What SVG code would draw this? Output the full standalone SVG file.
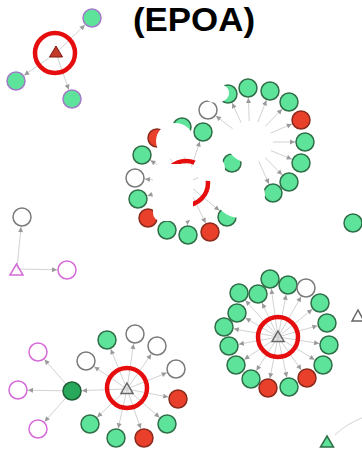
<svg xmlns="http://www.w3.org/2000/svg" width="362" height="452" viewBox="0 0 362 452">
<style>
.e{stroke:#d2d2d2;stroke-width:1;fill:none;marker-end:url(#a)}
.g{fill:#5ee39b;stroke:#2f6e47;stroke-width:1.5}
.pg{fill:#5ee39b;stroke:#a07cc8;stroke-width:1.5}
.r{fill:#e8402b;stroke:#8a2a1c;stroke-width:1.5}
.o{fill:#fff;stroke:#7a7a7a;stroke-width:1.5}
.m{fill:#fff;stroke:#d56ad8;stroke-width:1.5}
.dg{fill:#27a85a;stroke:#1d5e36;stroke-width:1.5}
.ring{fill:none;stroke:#e50d0d;stroke-width:4.5}
.tri{fill:none;stroke:#666;stroke-width:1.5}
.w{fill:#fff;stroke:none}
text{font-family:"Liberation Sans",Arial,sans-serif;font-weight:bold;fill:#000}
</style>
<defs>
<marker id="a" markerUnits="userSpaceOnUse" markerWidth="5" markerHeight="5" refX="15" refY="2.5" orient="auto" overflow="visible">
<path d="M0,0 L5,2.5 L0,5 z" fill="#9a9a9a"/>
</marker>
</defs>
<rect width="362" height="452" fill="#fff"/>
<text x="194" y="30.5" font-size="33" text-anchor="middle" textLength="122" lengthAdjust="spacingAndGlyphs">(EPOA)</text>

<g id="connectors">
<line class="e" x1="56" y1="53" x2="92" y2="18"/>
<line class="e" x1="56" y1="53" x2="16" y2="81"/>
<line class="e" x1="56" y1="53" x2="72" y2="99"/>
<line class="e" x1="250" y1="142" x2="228" y2="94"/>
<line class="e" x1="250" y1="142" x2="248" y2="88"/>
<line class="e" x1="250" y1="142" x2="270" y2="91"/>
<line class="e" x1="250" y1="142" x2="289" y2="102"/>
<line class="e" x1="250" y1="142" x2="301" y2="120"/>
<line class="e" x1="250" y1="142" x2="305" y2="142"/>
<line class="e" x1="250" y1="142" x2="301" y2="163"/>
<line class="e" x1="250" y1="142" x2="289" y2="182"/>
<line class="e" x1="250" y1="142" x2="273" y2="193"/>
<line class="e" x1="250" y1="142" x2="208" y2="110"/>
<line class="e" x1="186" y1="183" x2="157" y2="138"/>
<line class="e" x1="186" y1="183" x2="182" y2="127"/>
<line class="e" x1="186" y1="183" x2="203" y2="132"/>
<line class="e" x1="186" y1="183" x2="142" y2="155"/>
<line class="e" x1="186" y1="183" x2="135" y2="178"/>
<line class="e" x1="186" y1="183" x2="138" y2="199"/>
<line class="e" x1="186" y1="183" x2="148" y2="218"/>
<line class="e" x1="186" y1="183" x2="167" y2="230"/>
<line class="e" x1="186" y1="183" x2="188" y2="235"/>
<line class="e" x1="186" y1="183" x2="210" y2="232"/>
<line class="e" x1="186" y1="183" x2="227" y2="217"/>
<line class="e" x1="186" y1="183" x2="232" y2="163"/>
<line class="e" x1="17" y1="268" x2="22" y2="217"/>
<line class="e" x1="17" y1="269" x2="67" y2="270"/>
<line class="e" x1="127" y1="389" x2="107" y2="340"/>
<line class="e" x1="127" y1="389" x2="135" y2="334"/>
<line class="e" x1="127" y1="389" x2="157" y2="346"/>
<line class="e" x1="127" y1="389" x2="176" y2="369"/>
<line class="e" x1="127" y1="389" x2="178" y2="399"/>
<line class="e" x1="127" y1="389" x2="167" y2="424"/>
<line class="e" x1="127" y1="389" x2="144" y2="438"/>
<line class="e" x1="127" y1="389" x2="116" y2="438"/>
<line class="e" x1="127" y1="389" x2="90" y2="424"/>
<line class="e" x1="127" y1="389" x2="86" y2="361"/>
<line class="e" x1="127" y1="389" x2="72" y2="391"/>
<line class="e" x1="72" y1="391" x2="38" y2="352"/>
<line class="e" x1="72" y1="391" x2="18" y2="390"/>
<line class="e" x1="72" y1="391" x2="38" y2="429"/>
<line class="e" x1="278" y1="337" x2="270" y2="279"/>
<line class="e" x1="278" y1="337" x2="288" y2="285"/>
<line class="e" x1="278" y1="337" x2="306" y2="288"/>
<line class="e" x1="278" y1="337" x2="320" y2="303"/>
<line class="e" x1="278" y1="337" x2="327" y2="323"/>
<line class="e" x1="278" y1="337" x2="329" y2="345"/>
<line class="e" x1="278" y1="337" x2="323" y2="365"/>
<line class="e" x1="278" y1="337" x2="307" y2="378"/>
<line class="e" x1="278" y1="337" x2="289" y2="387"/>
<line class="e" x1="278" y1="337" x2="268" y2="388"/>
<line class="e" x1="278" y1="337" x2="251" y2="379"/>
<line class="e" x1="278" y1="337" x2="236" y2="365"/>
<line class="e" x1="278" y1="337" x2="229" y2="346"/>
<line class="e" x1="278" y1="337" x2="224" y2="327"/>
<line class="e" x1="278" y1="337" x2="237" y2="313"/>
<line class="e" x1="278" y1="337" x2="239" y2="293"/>
<line class="e" x1="278" y1="337" x2="258" y2="294"/>
<path d="M335,435 Q346,424 362,418" stroke="#d2d2d2" stroke-width="1" fill="none"/>
</g>

<g id="hub-topleft">
<circle class="ring" cx="55" cy="53" r="20"/>
<path d="M56,46 L62.5,57 L49.5,57 z" fill="#c23a2a" stroke="#7d1a12" stroke-width="1"/>
</g>
<g id="n-tl1"><circle class="pg" cx="92" cy="18" r="9"/></g>
<g id="n-tl2"><circle class="pg" cx="16" cy="81" r="9"/></g>
<g id="n-tl3"><circle class="pg" cx="72" cy="99" r="9"/></g>

<g id="cluster-mid-right">
<circle class="g" cx="228" cy="94" r="9"/>
<circle class="g" cx="248" cy="88" r="9"/>
<circle class="g" cx="270" cy="91" r="9"/>
<circle class="g" cx="289" cy="102" r="9"/>
<circle class="r" cx="301" cy="120" r="9"/>
<circle class="g" cx="305" cy="142" r="9"/>
<circle class="g" cx="301" cy="163" r="9"/>
<circle class="g" cx="289" cy="182" r="9"/>
<circle class="g" cx="273" cy="193" r="9"/>
<circle class="o" cx="208" cy="110" r="9"/>
</g>
<g id="cluster-mid-left">
<circle class="ring" cx="186" cy="183" r="22"/>
<circle class="r" cx="157" cy="138" r="9"/>
<circle class="g" cx="182" cy="127" r="9"/>
<circle class="g" cx="203" cy="132" r="9"/>
<circle class="g" cx="142" cy="155" r="9"/>
<circle class="o" cx="135" cy="178" r="9"/>
<circle class="g" cx="138" cy="199" r="9"/>
<circle class="r" cx="148" cy="218" r="9"/>
<circle class="g" cx="167" cy="230" r="9"/>
<circle class="g" cx="188" cy="235" r="9"/>
<circle class="r" cx="210" cy="232" r="9"/>
<circle class="g" cx="227" cy="217" r="9"/>
<circle class="g" cx="232" cy="163" r="9"/>
</g>
<g id="blanks">
<ellipse class="w" cx="216" cy="93" rx="13" ry="10"/>
<ellipse class="w" cx="250" cy="142" rx="23" ry="21"/>
<ellipse class="w" cx="175" cy="141" rx="19" ry="18"/>
<rect class="w" x="153" y="164" width="40" height="57" rx="8"/>
<ellipse class="w" cx="209" cy="168" rx="16" ry="13"/>
<ellipse class="w" cx="240" cy="195" rx="25" ry="23"/>
</g>

<g id="n-grey-left"><circle class="o" cx="22" cy="217" r="9"/></g>
<g id="n-mag-tri"><path d="M16.5,264 L23,275 L10,275 z" fill="none" stroke="#d56ad8" stroke-width="1.5"/></g>
<g id="n-mag-right"><circle class="m" cx="67" cy="270" r="9"/></g>
<g id="n-edge-green"><circle class="g" cx="353" cy="223" r="9"/></g>
<g id="n-edge-tri"><path d="M358,310 L364,321 L352,321 z" class="tri"/></g>
<g id="n-bottom-tri"><path d="M327,436 L333.5,447 L320.5,447 z" fill="#5ee39b" stroke="#2f6e47" stroke-width="1.5"/></g>

<g id="cluster-bottom-left">
<circle class="ring" cx="127" cy="388" r="20"/>
<path d="M127,383 L133,393.5 L121,393.5 z" class="tri"/>
<circle class="g" cx="107" cy="340" r="9"/>
<circle class="o" cx="135" cy="334" r="9"/>
<circle class="o" cx="157" cy="346" r="9"/>
<circle class="o" cx="176" cy="369" r="9"/>
<circle class="r" cx="178" cy="399" r="9"/>
<circle class="g" cx="167" cy="424" r="9"/>
<circle class="r" cx="144" cy="438" r="9"/>
<circle class="g" cx="116" cy="438" r="9"/>
<circle class="g" cx="90" cy="424" r="9"/>
<circle class="o" cx="86" cy="361" r="9"/>
<circle class="dg" cx="72" cy="391" r="9"/>
<circle class="m" cx="38" cy="352" r="9"/>
<circle class="m" cx="18" cy="390" r="9"/>
<circle class="m" cx="38" cy="429" r="9"/>
</g>

<g id="cluster-bottom-right">
<circle class="ring" cx="278" cy="337" r="20"/>
<path d="M278,331 L284,341.5 L272,341.5 z" class="tri"/>
<circle class="g" cx="270" cy="279" r="9"/>
<circle class="g" cx="288" cy="285" r="9"/>
<circle class="o" cx="306" cy="288" r="9"/>
<circle class="g" cx="320" cy="303" r="9"/>
<circle class="g" cx="327" cy="323" r="9"/>
<circle class="g" cx="329" cy="345" r="9"/>
<circle class="g" cx="323" cy="365" r="9"/>
<circle class="r" cx="307" cy="378" r="9"/>
<circle class="g" cx="289" cy="387" r="9"/>
<circle class="r" cx="268" cy="388" r="9"/>
<circle class="g" cx="251" cy="379" r="9"/>
<circle class="g" cx="236" cy="365" r="9"/>
<circle class="g" cx="229" cy="346" r="9"/>
<circle class="g" cx="224" cy="327" r="9"/>
<circle class="g" cx="237" cy="313" r="9"/>
<circle class="g" cx="239" cy="293" r="9"/>
<circle class="g" cx="258" cy="294" r="9"/>
</g>
</svg>
